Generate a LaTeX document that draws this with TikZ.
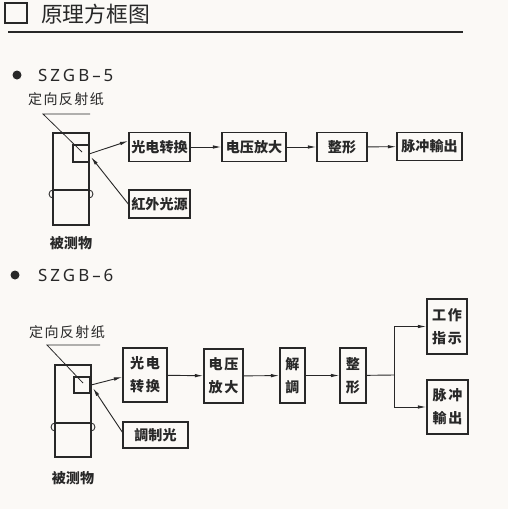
\documentclass[tikz,border=0pt]{standalone}
\usepackage{fontspec}
\newfontfamily\cjk{Noto Sans CJK SC}
\newfontfamily\cjkwide{Noto Sans CJK SC}[LetterSpace=12]
\newfontfamily\cjklbl{Noto Sans CJK SC}[LetterSpace=10]
\newfontfamily\latn{Noto Sans}[LetterSpace=18]
\usetikzlibrary{arrows.meta}
\definecolor{ink}{RGB}{40,40,40}
\definecolor{paper}{RGB}{251,249,246}

\begin{document}
\begin{tikzpicture}
[x=0.05cm, y=-0.05cm, every node/.style={color=ink},
 blk/.style={draw=ink, line width=2pt, inner sep=0pt, font=\cjk\bfseries\fontsize{20}{24}\selectfont},
 blk2/.style={blk, align=center, font=\cjkwide\bfseries\fontsize{20}{33}\selectfont},
 arr/.style={draw=ink, line width=1.3pt, -{Latex[length=12pt,width=5pt]}},
 lead/.style={draw=ink, line width=1.1pt},
 obj/.style={draw=ink, line width=2.3pt},
 lbl/.style={font=\cjklbl\fontsize{20}{24}\selectfont, inner sep=0pt},
 sub/.style={font=\cjk\bfseries\fontsize{20}{24}\selectfont, inner sep=0pt},
 model/.style={font=\latn\fontsize{24}{28}\selectfont, anchor=west, inner sep=0pt}]
    \fill[paper] (0,0) rectangle (508,509);
    \coordinate (p1) at (89,154);
    \coordinate (q1) at (91,157);
    \coordinate (l1a) at (90,114);
    \coordinate (l1b) at (43,114);
    \coordinate (l1c) at (82,152);
    \coordinate (p2) at (91,385);
    \coordinate (q2) at (93,388);
    \coordinate (l2a) at (100,345);
    \coordinate (l2b) at (47,345);
    \coordinate (l2c) at (83,383);
    \coordinate (j) at (394,375);
    % title
    \draw[ink, line width=1.8pt] (5,3) rectangle (27,23);
    \node[anchor=west, inner sep=0pt, font=\cjk\fontsize{31}{35}\selectfont] (title) at (41,14) {原理方框图};
    \draw[ink, line width=1.8pt] (8,32) -- (463,32);
    % SZGB-5
    \fill[ink] (17,75) circle (4.5);
    \node[model] (m5) at (38,75) {SZGB–5};
    \draw[obj] (53,133) rectangle (89,225);
    \draw[obj, line width=1.6pt] (73,145) rectangle (89,162);
    \draw[obj, line width=1.6pt] (53,190) -- (89,190);
    \draw[ink, line width=1.2pt] (53,190) arc[start angle=270, end angle=90, radius=4];
    \draw[ink, line width=1.2pt] (89,190) arc[start angle=-90, end angle=90, radius=4];
    \node[lbl] (rf1) at (66,99) {定向反射纸};
    \draw[lead] (l1a) -- (l1b) -- (l1c);
    \node[sub] (obj1) at (71,243) {被测物};
    \node[blk, minimum width=3.05cm, minimum height=1.45cm] (gd1) at (159.5,147) {光电转换};
    \node[blk, minimum width=3.05cm, minimum height=1.4cm] (hw) at (159.5,204) {紅外光源};
    \node[blk, minimum width=3.2cm, minimum height=1.45cm] (dy1) at (254,147) {电压放大};
    \node[blk, minimum width=2.5cm, minimum height=1.45cm] (zx1) at (342,147) {整形};
    \node[blk, minimum width=3.25cm, minimum height=1.4cm] (mc1) at (429.5,146.5) {脉冲輸出};
    \draw[arr] (p1) -- (gd1.169);
    \draw[arr] (hw.west) -- (q1);
    \draw[arr] (gd1) -- (dy1);
    \draw[arr] (dy1) -- (zx1);
    \draw[arr] (zx1) -- (mc1);
    % SZGB-6
    \fill[ink] (15,275) circle (4.5);
    \node[model] (m6) at (38,275) {SZGB–6};
    \draw[obj] (55,365) rectangle (91,457);
    \draw[obj, line width=1.6pt] (74,377) rectangle (90,393);
    \draw[obj, line width=1.6pt] (55,423) -- (91,423);
    \draw[ink, line width=1.2pt] (55,423) arc[start angle=270, end angle=90, radius=4];
    \draw[ink, line width=1.2pt] (91,423) arc[start angle=-90, end angle=90, radius=4];
    \node[lbl] (rf2) at (67,332) {定向反射纸};
    \draw[lead] (l2a) -- (l2b) -- (l2c);
    \node[sub] (obj2) at (73,478) {被测物};
    \node[blk2, minimum width=2.2cm, minimum height=2.7cm] (gd2) at (145,375) {光电\\转换};
    \node[blk, minimum width=3.25cm, minimum height=1.3cm] (tz) at (155.5,435) {調制光};
    \node[blk2, minimum width=1.95cm, minimum height=2.7cm] (dy2) at (223.5,376) {电压\\放大};
    \node[blk2, minimum width=1.25cm, minimum height=2.75cm] (jt) at (292.5,375.5) {解\\調};
    \node[blk2, minimum width=1.3cm, minimum height=2.75cm] (zx2) at (353,375.5) {整\\形};
    \node[blk2, minimum width=2.0cm, minimum height=2.75cm] (gz) at (447,326.5) {工作\\指示};
    \node[blk2, minimum width=2.05cm, minimum height=2.7cm] (mc2) at (447.5,407) {脉冲\\輸出};
    \draw[arr] (p2) -- (gd2.185);
    \draw[arr] (tz.175) -- (q2);
    \draw[arr] (gd2) -- (dy2);
    \draw[arr] (dy2) -- (jt);
    \draw[arr] (jt) -- (zx2);
    \draw[lead, line width=1.3pt] (zx2) -- (j);
    \draw[arr] (j) |- (gz.west);
    \draw[arr] (j) |- (mc2.west);
\end{tikzpicture}
\end{document}
